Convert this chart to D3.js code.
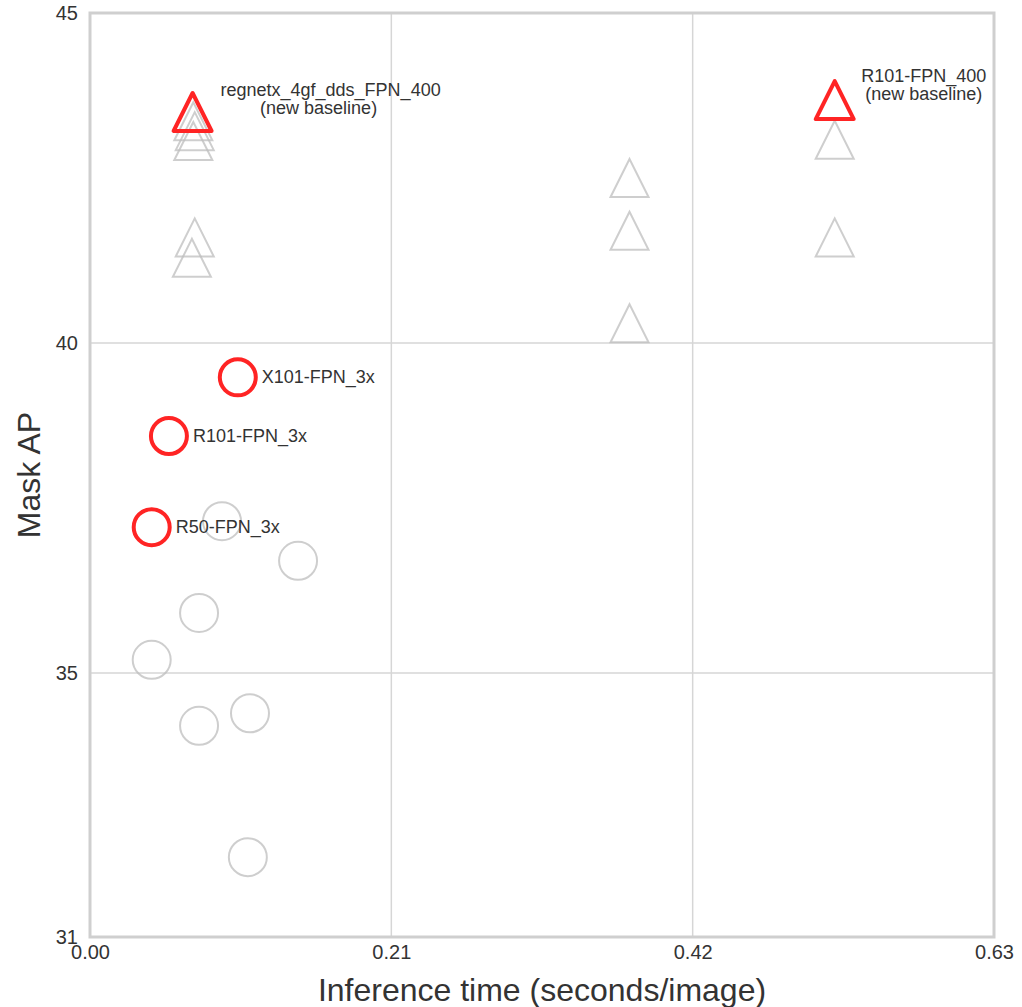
<!DOCTYPE html>
<html>
<head>
<meta charset="utf-8">
<script src="https://cdn.jsdelivr.net/npm/d3@7"></script>
<style>
  body { margin: 0; background: #fff; }
  svg text { font-family: "Liberation Sans", Arial, sans-serif; fill: #333; }
  .tick text { font-size: 20px; }
</style>
</head>
<body>
<svg id="chart" width="1022" height="1007"></svg>
<script>
// data
const xTicks = [0.00, 0.21, 0.42, 0.63];
const yTicks = [31, 35, 40, 45];

// gray (old) models
const grayTriTime = [0.072, 0.073, 0.072, 0.073, 0.071, 0.376, 0.376, 0.376, 0.519, 0.519];
const grayTriAP   = [43.36, 43.21, 43.06, 41.6, 41.29, 42.5, 41.7, 40.3, 43.08, 41.6];

const grayCircTime = [0.092, 0.145, 0.076, 0.043, 0.076, 0.1115, 0.110];
const grayCircAP   = [37.30, 36.70, 35.91, 35.20, 34.20, 34.39, 32.21];

// highlighted (red) models
const redTriNames = [["regnetx_4gf_dds_FPN_400", "(new baseline)"], ["R101-FPN_400", "(new baseline)"]];
const redTriTime  = [0.0715, 0.519];
const redTriAP    = [43.5, 43.68];

const redCircNames = ["X101-FPN_3x", "R101-FPN_3x", "R50-FPN_3x"];
const redCircTime  = [0.103, 0.055, 0.043];
const redCircAP    = [39.48, 38.59, 37.21];

const margin = { left: 90, right: 28, top: 13, bottom: 70 };
const W = 1022, H = 1007;
const svg = d3.select("#chart");

const x = d3.scaleLinear().domain([0, 0.63]).range([margin.left, W - margin.right]);
const y = d3.scaleLinear().domain([31, 45]).range([H - margin.bottom, margin.top]);

const grid = "#d6d6d6";

// grid lines
svg.append("g").selectAll("line").data(xTicks).join("line")
  .attr("x1", d => x(d)).attr("x2", d => x(d))
  .attr("y1", y(31)).attr("y2", y(45))
  .attr("stroke", grid).attr("stroke-width", 1.5);
svg.append("g").selectAll("line").data(yTicks).join("line")
  .attr("x1", x(0)).attr("x2", x(0.63))
  .attr("y1", d => y(d)).attr("y2", d => y(d))
  .attr("stroke", grid).attr("stroke-width", 1.5);

// frame
svg.append("rect")
  .attr("x", x(0)).attr("y", y(45))
  .attr("width", x(0.63) - x(0)).attr("height", y(31) - y(45))
  .attr("fill", "none").attr("stroke", "#cfcfcf").attr("stroke-width", 3);

// axes (labels only)
const xAxis = svg.append("g")
  .attr("transform", `translate(0,${y(31)})`)
  .call(d3.axisBottom(x).tickValues(xTicks).tickFormat(d3.format(".2f")).tickSize(0).tickPadding(8));
const yAxis = svg.append("g")
  .attr("transform", `translate(${x(0)},0)`)
  .call(d3.axisLeft(y).tickValues(yTicks).tickFormat(d3.format("d")).tickSize(0).tickPadding(12));
[xAxis, yAxis].forEach(a => {
  a.select(".domain").remove();
  a.attr("font-size", 20).attr("font-family", "Liberation Sans, Arial, sans-serif");
  a.selectAll("text").attr("font-size", 20).attr("fill", "#333");
});

// axis titles
svg.append("text")
  .attr("x", (x(0) + x(0.63)) / 2).attr("y", 1001)
  .attr("text-anchor", "middle").style("font-size", "32px")
  .text("Inference time (seconds/image)");
svg.append("text")
  .attr("transform", `translate(40,${(y(31) + y(45)) / 2}) rotate(-90)`)
  .attr("text-anchor", "middle").style("font-size", "32px")
  .text("Mask AP");

const tri = d3.symbol().type({
  draw(ctx, size) {
    const s = 19;
    ctx.moveTo(0, -s);
    ctx.lineTo(-s, s);
    ctx.lineTo(s, s);
    ctx.closePath();
  }
})();

// gray markers
svg.append("g").selectAll("path").data(d3.range(grayTriTime.length)).join("path")
  .attr("d", tri)
  .attr("transform", i => `translate(${x(grayTriTime[i])},${y(grayTriAP[i])})`)
  .attr("fill", "none").attr("stroke", "#bdbdbd").attr("stroke-opacity", 0.75).attr("stroke-width", 2);
svg.append("g").selectAll("circle").data(d3.range(grayCircTime.length)).join("circle")
  .attr("cx", i => x(grayCircTime[i])).attr("cy", i => y(grayCircAP[i])).attr("r", 19)
  .attr("fill", "none").attr("stroke", "#bdbdbd").attr("stroke-opacity", 0.75).attr("stroke-width", 2);

// red markers
const red = "#ff2424";
svg.append("g").selectAll("path").data(d3.range(redTriTime.length)).join("path")
  .attr("d", tri)
  .attr("transform", i => `translate(${x(redTriTime[i])},${y(redTriAP[i])})`)
  .attr("fill", "none").attr("stroke", red).attr("stroke-width", 4).attr("stroke-linejoin", "round");
svg.append("g").selectAll("circle").data(d3.range(redCircTime.length)).join("circle")
  .attr("cx", i => x(redCircTime[i])).attr("cy", i => y(redCircAP[i])).attr("r", 18)
  .attr("fill", "none").attr("stroke", red).attr("stroke-width", 4);

// labels
svg.append("g").selectAll("text").data(d3.range(redCircNames.length)).join("text")
  .attr("x", i => x(redCircTime[i]) + 24).attr("y", i => y(redCircAP[i]) + 6)
  .style("font-size", "18px")
  .text(i => redCircNames[i]);

const triLabelDx = [138, 89];
const triLabelDy = [-16, -18];
redTriNames.forEach((lines, i) => {
  const t = svg.append("text")
    .attr("text-anchor", "middle").style("font-size", "18px");
  lines.forEach((ln, j) => {
    t.append("tspan")
      .attr("x", x(redTriTime[i]) + triLabelDx[i] - (i === 0 && j === 1 ? 12 : 0))
      .attr("y", y(redTriAP[i]) + triLabelDy[i] + j * 18)
      .text(ln);
  });
});
</script>
</body>
</html>
